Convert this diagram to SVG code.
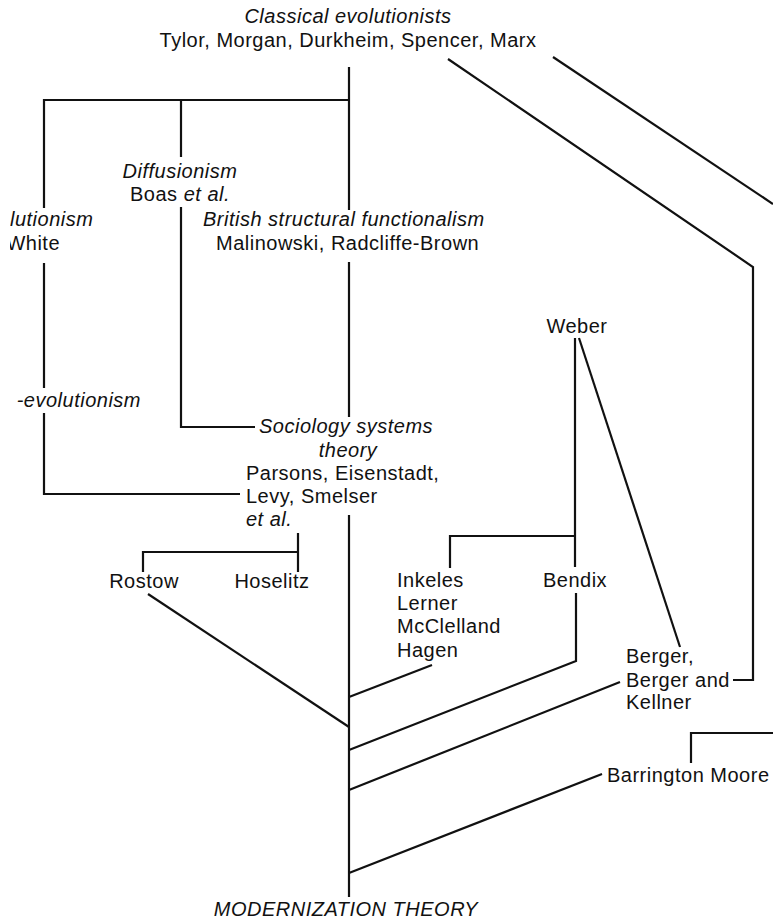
<svg xmlns="http://www.w3.org/2000/svg" width="773" height="919" viewBox="0 0 773 919">
<style>
  text { font-family: "Liberation Sans", Arial, sans-serif; font-size: 20px; fill: #111; letter-spacing: 0.5px; }
  .it { font-style: italic; }
  .mid { text-anchor: middle; }
  .end { text-anchor: end; }
  .ln { fill: none; stroke: #111; stroke-width: 2.2; stroke-linejoin: miter; stroke-linecap: butt; }
</style>
<defs>
  <clipPath id="leftclip"><rect x="10" y="0" width="763" height="919"/></clipPath>
</defs>
<rect width="773" height="919" fill="#fff"/>

<g id="connectors">
  <!-- main trunk -->
  <path class="ln" d="M349 67 V210 M349 262 V417 M349 515 V897"/>
  <!-- top horizontal bar and branches -->
  <path class="ln" d="M349 100 H44 V208"/>
  <path class="ln" d="M181 100 V157"/>
  <!-- evolutionism / White down to Levy -->
  <path class="ln" d="M44 263 V388 M44 413 V494 H240"/>
  <!-- Diffusionism down to Sociology systems -->
  <path class="ln" d="M181 207 V427 H255"/>
  <!-- Rostow / Hoselitz bracket -->
  <path class="ln" d="M298 533 V572 M298 552 H143 V572"/>
  <!-- Rostow to trunk -->
  <path class="ln" d="M148 594 L349 727"/>
  <!-- Weber branches -->
  <path class="ln" d="M575 338 V567 M575 536 H450 V568"/>
  <path class="ln" d="M576 593 V661 L349 750"/>
  <path class="ln" d="M579 338 L680 647"/>
  <!-- Hagen to trunk -->
  <path class="ln" d="M432 665 L349 697"/>
  <!-- Spencer line to Berger -->
  <path class="ln" d="M448 59 L753 267 V680 H733"/>
  <!-- Marx line -->
  <path class="ln" d="M553 57 L773 204"/>
  <!-- Berger to trunk -->
  <path class="ln" d="M620 682 L349 790"/>
  <!-- Barrington Moore bracket and line -->
  <path class="ln" d="M691 763 V733 H773"/>
  <path class="ln" d="M602 774 L349 873"/>
</g>

<g id="classical">
  <text class="it mid" x="348" y="23">Classical evolutionists</text>
  <text class="mid" x="348" y="47">Tylor, Morgan, Durkheim, Spencer, Marx</text>
</g>
<g id="diffusionism">
  <text class="it mid" x="180" y="178">Diffusionism</text>
  <text class="mid" x="180" y="201">Boas <tspan class="it">et al.</tspan></text>
</g>
<g id="evolutionism" clip-path="url(#leftclip)">
  <text class="it" x="10" y="226">lutionism</text>
  <text class="end" x="60" y="250">White</text>
</g>
<g id="british">
  <text class="it" x="203" y="226">British structural functionalism</text>
  <text x="216" y="250">Malinowski, Radcliffe-Brown</text>
</g>
<g id="neoevolutionism">
  <text class="it end" x="141" y="407">-evolutionism</text>
</g>
<g id="weber">
  <text class="mid" x="577" y="333">Weber</text>
</g>
<g id="sociology">
  <text class="it" x="259" y="433">Sociology systems</text>
  <text class="it mid" x="348" y="457">theory</text>
  <text x="246" y="480">Parsons, Eisenstadt,</text>
  <text x="246" y="503">Levy, Smelser</text>
  <text class="it" x="246" y="526">et al.</text>
</g>
<g id="rostow">
  <text class="mid" x="144" y="588">Rostow</text>
</g>
<g id="hoselitz">
  <text class="mid" x="272" y="588">Hoselitz</text>
</g>
<g id="inkeles">
  <text x="397" y="587">Inkeles</text>
  <text x="397" y="610">Lerner</text>
  <text x="397" y="633">McClelland</text>
  <text x="397" y="657">Hagen</text>
</g>
<g id="bendix">
  <text class="mid" x="575" y="587">Bendix</text>
</g>
<g id="berger">
  <text x="626" y="663">Berger,</text>
  <text x="626" y="687">Berger and</text>
  <text x="626" y="709">Kellner</text>
</g>
<g id="barrington">
  <text x="607" y="782">Barrington Moore</text>
</g>
<g id="modernization">
  <text class="it mid" x="346" y="916">MODERNIZATION THEORY</text>
</g>
</svg>
